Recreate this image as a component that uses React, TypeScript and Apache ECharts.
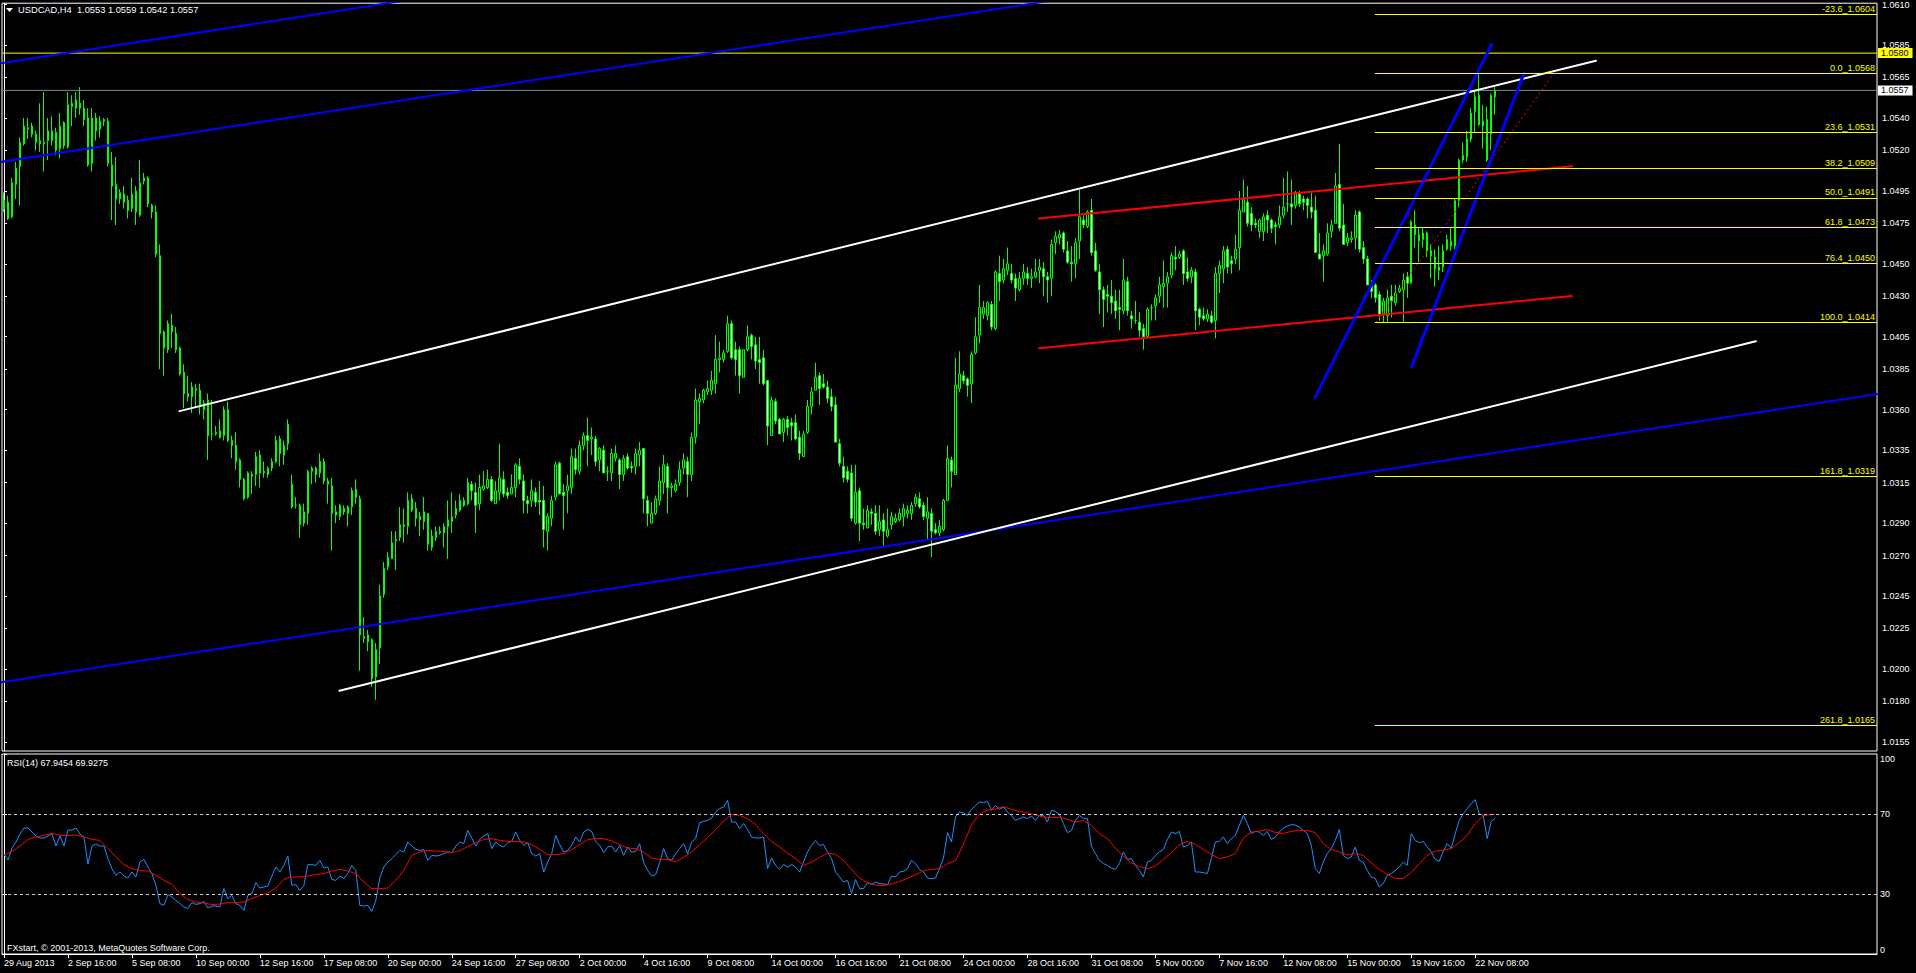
import React, { useEffect, useRef } from "react";
import * as echarts from "echarts";

const WIDTH = 1916;
const HEIGHT = 973;
const SLOTS = 469; // bar slots visible in the window
const FONT = "Liberation Sans";

const titleText = "USDCAD,H4  1.0553 1.0559 1.0542 1.0557";
const rsiTitle = "RSI(14) 67.9454 69.9275";
const copyright = "FXstart, \u00A9 2001-2013, MetaQuotes Software Corp.";

const dateLabels = [
  "29 Aug 2013", "2 Sep 16:00", "5 Sep 08:00", "10 Sep 00:00", "12 Sep 16:00", "17 Sep 08:00",
  "20 Sep 00:00", "24 Sep 16:00", "27 Sep 08:00", "2 Oct 00:00", "4 Oct 16:00", "9 Oct 08:00",
  "14 Oct 00:00", "16 Oct 16:00", "21 Oct 08:00", "24 Oct 00:00", "28 Oct 16:00", "31 Oct 08:00",
  "5 Nov 00:00", "7 Nov 16:00", "12 Nov 08:00", "15 Nov 00:00", "19 Nov 16:00", "22 Nov 08:00",
];
const LABEL_EVERY = 16;

const priceTicks = [
  1.061, 1.0585, 1.0565, 1.054, 1.052, 1.0495, 1.0475, 1.045, 1.043, 1.0405, 1.0385,
  1.036, 1.0335, 1.0315, 1.029, 1.027, 1.0245, 1.0225, 1.02, 1.018, 1.0155,
];
const rsiTicks = [0, 30, 70, 100];
const rsiLevels = [70, 30];

// OHLC in pips above 1.0000
const opens = [
  484, 488, 479, 499, 510, 524, 533, 535, 530, 524,
  524, 526, 532, 531, 521, 537, 522, 547, 546, 549,
  546, 540, 512, 540, 533, 538, 538, 511, 499, 490,
  493, 489, 484, 482, 480, 501, 503, 486, 482, 455,
  408, 397, 412, 407, 398, 383, 370, 368, 372, 372,
  364, 366, 345, 345, 343, 344, 360, 341, 338, 329,
  317, 306, 320, 320, 332, 321, 320, 324, 328, 342,
  332, 339, 314, 301, 301, 290, 296, 322, 324, 321,
  328, 316, 313, 297, 294, 299, 296, 300, 311, 305,
  220, 221, 218, 195, 213, 246, 263, 268, 279, 281,
  289, 288, 305, 299, 294, 291, 296, 275, 281, 284,
  284, 288, 291, 295, 298, 301, 302, 314, 309, 302,
  311, 312, 317, 302, 309, 317, 309, 308, 312, 325,
  316, 304, 304, 309, 304, 304, 285, 293, 306, 327,
  309, 310, 312, 330, 322, 338, 344, 342, 342, 329,
  335, 322, 321, 330, 329, 320, 331, 325, 325, 332,
  336, 304, 290, 296, 304, 315, 325, 312, 310, 315,
  324, 328, 320, 343, 365, 366, 371, 372, 376, 391,
  391, 396, 413, 397, 397, 380, 397, 406, 400, 391,
  392, 378, 344, 365, 354, 346, 354, 352, 352, 343,
  331, 346, 362, 372, 381, 376, 374, 368, 363, 339,
  325, 322, 321, 290, 310, 290, 287, 297, 296, 286,
  292, 282, 289, 291, 292, 294, 296, 296, 302, 305,
  301, 293, 296, 286, 284, 286, 304, 329, 320, 373,
  381, 379, 376, 395, 406, 419, 418, 425, 410, 444,
  440, 446, 444, 441, 434, 441, 444, 441, 442, 446,
  447, 442, 441, 463, 466, 469, 458, 451, 450, 464,
  477, 473, 483, 458, 445, 434, 431, 430, 427, 423,
  421, 439, 418, 415, 414, 410, 405, 423, 424, 430,
  436, 438, 443, 454, 454, 458, 445, 442, 445, 422,
  418, 416, 418, 415, 444, 447, 459, 452, 453, 460,
  482, 488, 481, 475, 470, 470, 480, 477, 474, 474,
  480, 487, 487, 486, 493, 490, 490, 485, 483, 456,
  455, 456, 470, 475, 499, 474, 463, 465, 466, 482,
  460, 453, 437, 437, 431, 419, 418, 430, 426, 433,
  434, 442, 438, 474, 468, 465, 469, 458, 454, 448,
  448, 459, 461, 461, 489, 514, 516, 527, 544, 554,
  538, 539, 530, 553,
];
const closes = [
  489, 478, 500, 509, 525, 535, 534, 530, 525, 526,
  525, 532, 526, 520, 535, 523, 548, 549, 551, 546,
  539, 511, 540, 532, 538, 539, 512, 498, 490, 494,
  488, 483, 493, 495, 500, 503, 487, 482, 456, 407,
  398, 413, 408, 397, 382, 370, 368, 374, 373, 362,
  360, 344, 345, 346, 347, 360, 341, 338, 328, 317,
  305, 321, 319, 331, 321, 322, 324, 328, 341, 333,
  338, 351, 300, 301, 289, 297, 322, 324, 320, 328,
  316, 314, 296, 295, 301, 297, 300, 310, 306, 221,
  219, 217, 194, 212, 245, 262, 269, 278, 280, 289,
  288, 304, 298, 293, 292, 297, 277, 282, 285, 285,
  288, 292, 294, 299, 304, 304, 315, 310, 301, 312,
  313, 317, 304, 310, 318, 308, 307, 312, 326, 317,
  304, 302, 310, 303, 303, 286, 294, 304, 326, 308,
  307, 313, 331, 323, 338, 344, 341, 343, 328, 336,
  321, 322, 333, 333, 320, 330, 324, 324, 333, 335,
  305, 296, 296, 305, 316, 326, 312, 313, 314, 323,
  329, 320, 343, 366, 367, 372, 373, 378, 391, 392,
  395, 413, 392, 391, 381, 397, 405, 399, 390, 389,
  376, 350, 366, 353, 345, 354, 349, 350, 342, 333,
  345, 362, 371, 380, 373, 374, 367, 362, 340, 327,
  318, 317, 293, 309, 290, 289, 298, 296, 285, 291,
  285, 286, 294, 293, 296, 299, 298, 301, 306, 300,
  294, 297, 285, 284, 288, 304, 330, 322, 375, 382,
  378, 375, 394, 405, 423, 423, 426, 411, 445, 439,
  447, 450, 440, 435, 441, 445, 441, 442, 445, 448,
  442, 440, 462, 467, 468, 459, 451, 450, 463, 479,
  474, 482, 457, 446, 434, 428, 430, 426, 421, 422,
  440, 421, 416, 415, 409, 405, 422, 423, 429, 437,
  438, 442, 455, 453, 456, 444, 441, 446, 421, 417,
  416, 419, 414, 444, 449, 458, 448, 450, 459, 483,
  490, 475, 474, 474, 477, 479, 477, 472, 473, 479,
  485, 487, 485, 494, 487, 488, 486, 482, 457, 453,
  458, 469, 474, 498, 472, 462, 466, 466, 480, 459,
  453, 437, 433, 429, 419, 427, 429, 427, 432, 435,
  440, 438, 476, 468, 464, 469, 458, 455, 447, 446,
  458, 465, 464, 489, 514, 517, 527, 543, 553, 536,
  535, 514, 554, 557,
];
const lows = [
  482, 477, 478, 490, 486, 523, 527, 528, 520, 519,
  507, 514, 523, 517, 515, 521, 521, 535, 540, 542,
  535, 510, 507, 526, 528, 535, 510, 477, 474, 487,
  484, 478, 482, 474, 479, 499, 485, 478, 454, 385,
  381, 395, 398, 395, 381, 361, 365, 358, 361, 357,
  354, 329, 341, 344, 342, 341, 340, 330, 323, 312,
  304, 305, 308, 313, 312, 318, 318, 322, 327, 325,
  326, 335, 299, 299, 281, 288, 289, 314, 315, 318,
  314, 302, 273, 290, 292, 295, 288, 295, 302, 199,
  216, 211, 189, 181, 203, 244, 261, 268, 261, 279,
  278, 283, 297, 288, 282, 286, 273, 273, 279, 283,
  275, 268, 284, 293, 297, 300, 301, 304, 284, 298,
  310, 311, 303, 302, 304, 306, 305, 308, 306, 314,
  296, 296, 300, 300, 295, 275, 273, 288, 304, 308,
  286, 296, 308, 320, 320, 335, 325, 332, 325, 322,
  321, 316, 316, 328, 311, 316, 323, 321, 320, 325,
  296, 288, 290, 295, 301, 308, 296, 306, 309, 313,
  320, 306, 316, 339, 351, 364, 369, 369, 370, 383,
  389, 395, 391, 381, 370, 380, 396, 391, 385, 376,
  375, 338, 344, 351, 345, 340, 344, 341, 341, 329,
  331, 345, 357, 372, 363, 373, 364, 359, 340, 325,
  315, 315, 291, 289, 279, 286, 287, 289, 283, 282,
  276, 281, 286, 290, 291, 288, 293, 292, 300, 299,
  292, 280, 269, 283, 282, 285, 304, 312, 320, 371,
  376, 368, 364, 394, 401, 416, 415, 409, 409, 427,
  438, 443, 438, 427, 433, 437, 437, 435, 441, 438,
  430, 426, 430, 456, 462, 457, 450, 439, 441, 453,
  472, 472, 455, 445, 419, 411, 420, 419, 416, 409,
  419, 418, 410, 413, 405, 397, 404, 415, 415, 426,
  423, 423, 441, 446, 453, 437, 439, 438, 409, 412,
  415, 414, 413, 404, 432, 438, 444, 444, 450, 446,
  482, 473, 470, 472, 466, 464, 469, 469, 462, 472,
  478, 482, 474, 484, 485, 483, 478, 478, 457, 453,
  439, 455, 466, 475, 470, 462, 461, 463, 459, 457,
  450, 437, 429, 426, 415, 414, 414, 417, 424, 432,
  414, 429, 438, 460, 451, 460, 454, 441, 436, 440,
  445, 458, 458, 459, 485, 512, 513, 525, 531, 535,
  521, 513, 520, 542,
];
const highs = [
  494, 492, 503, 513, 528, 540, 540, 537, 532, 549,
  556, 540, 541, 534, 543, 538, 556, 554, 556, 559,
  551, 546, 546, 543, 541, 540, 540, 519, 516, 496,
  498, 492, 503, 498, 514, 506, 504, 487, 486, 462,
  409, 415, 419, 411, 399, 388, 381, 377, 376, 376,
  366, 370, 366, 350, 354, 362, 365, 344, 346, 330,
  318, 322, 322, 334, 335, 328, 325, 330, 344, 344,
  341, 354, 320, 306, 302, 302, 323, 325, 325, 333,
  330, 318, 318, 301, 302, 301, 301, 312, 317, 307,
  232, 224, 219, 216, 252, 266, 272, 285, 285, 300,
  299, 309, 308, 303, 297, 306, 296, 286, 288, 288,
  290, 304, 309, 304, 308, 306, 318, 316, 315, 320,
  322, 323, 319, 316, 339, 322, 312, 320, 327, 330,
  320, 307, 317, 312, 316, 313, 296, 307, 328, 328,
  314, 320, 336, 336, 341, 346, 355, 349, 344, 337,
  338, 325, 336, 338, 330, 332, 333, 328, 336, 340,
  336, 307, 303, 307, 325, 332, 327, 315, 317, 328,
  333, 331, 346, 373, 370, 373, 378, 384, 406, 402,
  397, 418, 415, 402, 399, 397, 412, 407, 405, 405,
  397, 378, 368, 367, 355, 355, 356, 355, 357, 347,
  347, 366, 374, 389, 383, 382, 378, 373, 368, 342,
  331, 325, 326, 326, 312, 299, 301, 299, 301, 301,
  296, 299, 297, 296, 299, 302, 301, 303, 308, 309,
  303, 306, 299, 290, 292, 305, 338, 331, 392, 396,
  384, 380, 396, 417, 437, 427, 427, 427, 446, 455,
  453, 460, 450, 444, 445, 450, 448, 447, 453, 453,
  451, 445, 465, 470, 471, 470, 464, 461, 466, 496,
  480, 483, 490, 463, 450, 436, 437, 440, 434, 434,
  453, 442, 421, 427, 420, 413, 423, 425, 431, 442,
  452, 445, 457, 461, 458, 459, 454, 448, 447, 423,
  423, 422, 421, 448, 452, 461, 461, 455, 468, 495,
  502, 498, 485, 478, 478, 481, 483, 478, 476, 486,
  503, 507, 502, 495, 495, 492, 491, 494, 492, 469,
  462, 475, 477, 506, 524, 487, 469, 470, 483, 483,
  464, 455, 440, 438, 433, 429, 434, 437, 437, 437,
  444, 445, 477, 483, 472, 472, 470, 462, 459, 461,
  462, 468, 472, 490, 515, 525, 532, 546, 556, 567,
  548, 547, 555, 559,
];

const rsiValues = [
  50, 47, 53, 56, 60, 63, 63, 61, 59, 58,
  58, 59, 60, 54, 59, 54, 62, 62, 63, 60,
  58.5, 45, 54, 55, 54, 54, 47.7, 42.7, 39.3, 41,
  39, 38, 41, 38.5, 46, 47.3, 43.5, 40.2, 34.3, 25.2,
  24.3, 29.7, 28.5, 26.8, 25.2, 23.5, 22.7, 25.7, 24.8, 25.2,
  26.3, 23, 24, 24, 23.5, 32.7, 27.7, 29.3, 25.2, 24.3,
  21.8, 29.3, 30.2, 35.7, 33, 33.5, 34, 39, 43.5, 41,
  44.3, 49, 34.3, 34.7, 31.8, 34.3, 44.7, 44.7, 44.3, 46.8,
  43, 43.5, 37.3, 36.8, 39, 37.7, 40.2, 44.3, 41.8, 24.3,
  24, 24.3, 21.3, 26.8, 38, 43.5, 46, 47.7, 49.7, 51.8,
  51, 56, 54, 52.3, 51.8, 52.3, 46.8, 49.3, 49, 49.3,
  50.2, 51, 50.7, 54, 56, 55.2, 61.8, 58, 54, 57.3,
  59, 60.2, 52.7, 56, 54.3, 53.5, 55.7, 56.3, 61, 56.8,
  54.3, 55.7, 50.2, 49, 50.2, 41, 46, 50.2, 59.3, 54.7,
  51, 51.8, 54.3, 58.5, 56, 61, 62.3, 61.3, 56.3, 54.3,
  50.7, 53.5, 54, 51, 54.3, 49.3, 53.5, 51, 51.3, 55.2,
  45.7, 41.8, 39, 39.7, 45.7, 52.7, 47.7, 46.8, 50.2, 52.7,
  55.2, 50.2, 56, 57.7, 65.7, 66.3, 66.8, 68, 71, 72.7,
  73.5, 76.8, 66, 66, 62.7, 65.2, 62.3, 58.5, 58, 58,
  58.5, 42.7, 48, 44.3, 42.3, 44.7, 43.5, 44.7, 43.5, 41,
  46, 51, 54.3, 56.8, 54.3, 54.7, 51, 47.7, 41, 38.5,
  36, 36.8, 30.2, 37.2, 32.7, 32.7, 35.7, 34.7, 36, 35.2,
  35, 34.7, 39, 38.5, 41, 41.3, 42.7, 46.8, 45.2, 42.3,
  41, 38, 37.7, 38, 42.7, 48, 60.7, 56, 68.5, 71,
  70.5, 69.3, 72.3, 74.3, 76, 75.7, 76.3, 71.8, 74.3, 72.3,
  73.5, 71, 69.3, 66.8, 67.7, 68.5, 67.7, 69, 66.8, 69.3,
  69.3, 66, 71.8, 71.3, 69.7, 65.2, 60.7, 61.8, 66.8, 69.3,
  67.7, 67.7, 54, 50.2, 46.8, 45.2, 44.3, 43, 42.3, 45.2,
  51, 47.3, 47.7, 44.3, 41.8, 38.5, 46, 46.8, 49.3, 51,
  52.3, 57.3, 61, 60.2, 61.3, 53.5, 54.3, 56, 41, 41,
  40.7, 40.2, 47.7, 56, 56.3, 58.5, 55.2, 57.7, 59.3, 64.3,
  69.3, 65.2, 60.2, 61.3, 61, 59.3, 61.3, 57.3, 58.5, 61,
  63, 64, 64.7, 64.5, 63.5, 61.8, 60.2, 54.3, 42.7, 40.2,
  46, 50.2, 52.7, 56.8, 62.3, 49.3, 47.7, 48.5, 53.5, 46.8,
  46, 41.8, 38.5, 37.7, 33.5, 35.2, 39.3, 40.2, 41.8, 43.5,
  46, 44.3, 60.2, 56.8, 55.7, 56.3, 53.5, 51, 47.3, 46.3,
  51.3, 55.2, 52.7, 60.2, 66.8, 70.2, 72.7, 75.2, 77.2, 70.2,
  69.3, 57.7, 66.3, 67.9,
];

// RSI signal line, read at [bar, value]
const rsiSignal = [
  [0, 49.3], [2, 51.3], [4, 54], [6, 57.3], [8, 58.5], [10, 59.3], [12, 60.3], [14, 59.3], [16, 59.2], [18, 59.5],
  [20, 58.5], [22, 57.3], [24, 56.8], [26, 52.7], [28, 48.5], [30, 44.7], [32, 42.7], [34, 41.7], [36, 41.5], [38, 39.3],
  [40, 36.8], [42, 34.8], [44, 30.2], [46, 27.3], [48, 26], [50, 25.5], [52, 24.7], [54, 25], [56, 25.7], [58, 25.7],
  [60, 26], [62, 27.7], [64, 29.3], [66, 30.5], [68, 33], [70, 37.3], [72, 38.5], [74, 38.5], [76, 39], [78, 39.7],
  [80, 40.2], [82, 41.5], [84, 42.3], [86, 41.5], [88, 40.2], [90, 36], [92, 32.7], [94, 32.7], [96, 33], [98, 36.8],
  [100, 41.8], [102, 49.3], [104, 51], [106, 51.8], [108, 51.5], [110, 51.2], [112, 50.7], [114, 51.7], [116, 53.7], [118, 55.7],
  [120, 57.2], [122, 57.7], [124, 56.8], [126, 56.3], [128, 56.3], [130, 56], [132, 54.7], [134, 52.3], [136, 49.7], [138, 49.7],
  [140, 50.2], [142, 52.2], [144, 54.7], [146, 57.2], [148, 57.8], [150, 57.7], [152, 56.5], [154, 54.7], [156, 53], [158, 52.7],
  [160, 51], [162, 48], [164, 47.3], [166, 47.2], [168, 46], [170, 48.3], [172, 51], [174, 54.7], [176, 58.2], [178, 62.2],
  [180, 66.5], [182, 69.7], [184, 69.3], [186, 67.7], [188, 64.7], [190, 60.2], [192, 56.3], [194, 53.5], [196, 50.5], [198, 47.7],
  [200, 44.3], [202, 46], [204, 48.3], [206, 50.5], [208, 49.8], [210, 46.8], [212, 42.3], [214, 38], [216, 35.7], [218, 34.5],
  [220, 34.2], [222, 35], [224, 36.3], [226, 37.8], [228, 39.7], [230, 41.5], [232, 42.3], [234, 42.7], [236, 45.2], [238, 46.7],
  [240, 55], [242, 64.5], [244, 70], [246, 72], [248, 72.5], [250, 73.7], [252, 72.3], [254, 71.3], [256, 70.5], [258, 69.5],
  [260, 68.5], [262, 68.2], [264, 68.3], [266, 67.3], [268, 66], [270, 66.7], [272, 64.3], [274, 60.2], [276, 57.7], [278, 53],
  [280, 48.8], [282, 45.5], [284, 43.7], [286, 42.7], [288, 44], [290, 47.3], [292, 50.7], [294, 54.7], [296, 56.3], [298, 54.8],
  [300, 52.3], [302, 49.8], [304, 47.7], [306, 48.5], [308, 50.2], [310, 58], [312, 61], [314, 61.5], [316, 62.2], [318, 60.8],
  [320, 60.3], [322, 61.3], [324, 61.8], [326, 61.8], [328, 60.7], [330, 55.2], [332, 52.2], [334, 51], [336, 49.5], [338, 50.2],
  [340, 49.3], [342, 45.5], [344, 42.3], [346, 39.7], [348, 37.7], [350, 37.8], [352, 40.7], [354, 45.2], [356, 49.3], [358, 51.5],
  [360, 51.8], [362, 52.8], [364, 55.7], [366, 59.3], [368, 65.2], [370, 69.2], [372, 69.7], [373, 69.9],
];

// Drawn objects, in [bar, price]
const trendLines = [
  { color: "#0000ff", width: 2, dash: "solid", pts: [[-1, 1.05737], [120, 1.062]] },
  { color: "#0000ff", width: 2, dash: "solid", pts: [[-1, 1.05128], [262, 1.06124]] },
  { color: "#0000ff", width: 2, dash: "solid", pts: [[-1, 1.01917], [470, 1.03702]] },
  { color: "#ffffff", width: 2, dash: "solid", pts: [[43.9, 1.03591], [398.2, 1.05753]] },
  { color: "#ffffff", width: 2, dash: "solid", pts: [[83.9, 1.01866], [438.2, 1.04022]] },
  { color: "#ff0000", width: 2, dash: "solid", pts: [[258.9, 1.0478], [392.2, 1.05102]] },
  { color: "#ff0000", width: 2, dash: "solid", pts: [[258.9, 1.03979], [392.2, 1.04301]] },
  { color: "#0000ff", width: 3, dash: "solid", pts: [[327.9, 1.03673], [372.1, 1.05854]] },
  { color: "#0000ff", width: 3, dash: "solid", pts: [[352.1, 1.03864], [380.2, 1.05675]] },
];
const fibAnchor = [[343.2, 1.04139], [387.7, 1.05676]];
const fibStartBar = 342.9;
const fibLevels = [-23.6, 0, 23.6, 38.2, 50, 61.8, 76.4, 100, 161.8, 261.8];
const fibPrices = [1.06039, 1.05676, 1.05313, 1.05089, 1.04907, 1.04726, 1.04502, 1.04139, 1.03189, 1.01652];
const priceLines = [
  { price: 1.058, color: "#ffff00", box: "#ffff00" },
  { price: 1.0557, color: "#778899", box: "#ffffff" },
];

function toPrice(pips: number) {
  return 1 + pips / 10000;
}

function showDateTick(index: number) {
  return index % LABEL_EVERY === 0 && index / LABEL_EVERY < dateLabels.length;
}

function buildOption(): any {
  const cats = Array.from({ length: SLOTS }, (_, i) => String(i));
  const candleData = opens.map((o, i) => [toPrice(o), toPrice(closes[i]), toPrice(lows[i]), toPrice(highs[i])]);
  const labelBase = { fontFamily: FONT, fontSize: 9 };

  const lineSeries = trendLines.map((t) => ({
    type: "line",
    xAxisIndex: 2,
    yAxisIndex: 0,
    data: t.pts,
    symbol: "none",
    showSymbol: false,
    clip: true,
    silent: true,
    z: 4,
    lineStyle: { color: t.color, width: t.width, type: t.dash, cap: "round" },
  }));

  const priceLineSeries = priceLines.map((p) => ({
    type: "line",
    xAxisIndex: 2,
    yAxisIndex: 0,
    data: [[-0.5, p.price], [SLOTS - 0.5, p.price]],
    symbol: "none",
    showSymbol: false,
    clip: false,
    silent: true,
    z: 3,
    lineStyle: { color: p.color, width: 1, type: "solid" },
    endLabel: {
      show: true,
      formatter: p.price.toFixed(4),
      color: "#000000",
      backgroundColor: p.box,
      padding: [1, 4, 0, 3],
      lineHeight: 9,
      distance: 1,
      ...labelBase,
    },
  }));

  return {
    animation: false,
    backgroundColor: "#000000",
    textStyle: { fontFamily: FONT, fontSize: 9, color: "#ffffff" },
    grid: [
      { left: 2, top: 2, width: 1875, height: 749, show: true, borderColor: "#ffffff", borderWidth: 1, containLabel: false },
      { left: 2, top: 754, width: 1875, height: 200, show: true, borderColor: "#ffffff", borderWidth: 1, containLabel: false },
    ],
    xAxis: [
      { type: "category", gridIndex: 0, data: cats, boundaryGap: true, show: false },
      {
        type: "category",
        gridIndex: 1,
        data: cats,
        boundaryGap: true,
        axisLine: { show: true, lineStyle: { color: "#ffffff", width: 1 } },
        axisTick: { show: true, interval: showDateTick, alignWithLabel: true, length: 4, lineStyle: { color: "#ffffff" } },
        axisLabel: {
          show: true,
          interval: showDateTick,
          formatter: (_v: string, idx: number) => dateLabels[idx / LABEL_EVERY] || "",
          color: "#ffffff",
          align: "left",
          margin: 4,
          ...labelBase,
        },
        splitLine: { show: false },
      },
      { type: "value", gridIndex: 0, min: -0.5, max: SLOTS - 0.5, show: false },
      { type: "value", gridIndex: 1, min: -0.5, max: SLOTS - 0.5, show: false },
    ],
    yAxis: [
      {
        type: "value",
        gridIndex: 0,
        position: "right",
        min: 1.01494,
        max: 1.06108,
        axisLine: { show: true, lineStyle: { color: "#ffffff" } },
        axisTick: { show: true, length: 3, customValues: priceTicks, lineStyle: { color: "#ffffff" } },
        axisLabel: {
          customValues: priceTicks,
          formatter: (v: number) => v.toFixed(4),
          color: "#ffffff",
          margin: 5,
          ...labelBase,
        },
        splitLine: { show: false },
      },
      {
        type: "value",
        gridIndex: 1,
        position: "right",
        min: 0,
        max: 100,
        axisLine: { show: true, lineStyle: { color: "#ffffff" } },
        axisTick: { show: true, length: 3, customValues: rsiTicks, lineStyle: { color: "#ffffff" } },
        axisLabel: {
          customValues: rsiTicks,
          color: "#ffffff",
          margin: 3,
          verticalAlignMinLabel: "bottom",
          verticalAlignMaxLabel: "top",
          ...labelBase,
        },
        splitLine: { show: false },
      },
    ],
    series: [
      {
        type: "candlestick",
        xAxisIndex: 0,
        yAxisIndex: 0,
        data: candleData,
        barWidth: 2,
        silent: true,
        z: 2,
        itemStyle: {
          color: "#000000",
          color0: "#ffffff",
          borderColor: "#00ff00",
          borderColor0: "#00ff00",
          borderColorDoji: "#00ff00",
          borderWidth: 1,
        },
      },
      ...priceLineSeries,
      ...lineSeries,
      {
        type: "line",
        xAxisIndex: 2,
        yAxisIndex: 0,
        data: fibAnchor,
        symbol: "none",
        showSymbol: false,
        silent: true,
        z: 3,
        lineStyle: { color: "#ff0000", width: 1, type: [2, 3] },
        markLine: {
          silent: true,
          symbol: ["none", "none"],
          animation: false,
          lineStyle: { color: "#ffff00", width: 1, type: "solid" },
          label: { show: true },
          data: fibLevels.map((lv, k) => [
            {
              coord: [fibStartBar, fibPrices[k]],
              lineStyle: { color: "#ffff00", width: 1, type: "solid" },
              label: {
                show: true,
                position: "insideEndTop",
                distance: [2, 1],
                formatter: lv.toFixed(1) + "_" + fibPrices[k].toFixed(4),
                color: "#ffff00",
                padding: 0,
                ...labelBase,
              },
            },
            { coord: [SLOTS - 0.5, fibPrices[k]] },
          ]),
        },
      },
      {
        type: "line",
        xAxisIndex: 3,
        yAxisIndex: 1,
        data: rsiValues.map((v, i) => [i, v]),
        symbol: "none",
        showSymbol: false,
        silent: true,
        z: 3,
        lineStyle: { color: "#1e90ff", width: 1 },
        markLine: {
          silent: true,
          symbol: ["none", "none"],
          animation: false,
          label: { show: false },
          lineStyle: { color: "#d0d0d0", width: 1, type: [3, 3] },
          data: rsiLevels.map((v) => ({ yAxis: v })),
        },
      },
      {
        type: "line",
        xAxisIndex: 3,
        yAxisIndex: 1,
        data: rsiSignal,
        symbol: "none",
        showSymbol: false,
        silent: true,
        z: 4,
        lineStyle: { color: "#ff0000", width: 1 },
      },
    ],
    graphic: [
      { type: "polygon", shape: { points: [[6, 8], [13, 8], [9.5, 12]] }, style: { fill: "#ffffff" }, silent: true, z: 10 },
      {
        type: "text",
        x: 18,
        y: 10,
        silent: true,
        z: 10,
        style: { text: titleText, fill: "#ffffff", font: `9.3px "${FONT}"`, verticalAlign: "middle", textVerticalAlign: "middle" },
      },
      {
        type: "text",
        x: 7,
        y: 763,
        silent: true,
        z: 10,
        style: { text: rsiTitle, fill: "#ffffff", font: `9px "${FONT}"`, verticalAlign: "middle", textVerticalAlign: "middle" },
      },
      {
        type: "text",
        x: 7,
        y: 948,
        silent: true,
        z: 10,
        style: { text: copyright, fill: "#ffffff", font: `9px "${FONT}"`, verticalAlign: "middle", textVerticalAlign: "middle" },
      },
    ],
  };
}

export default function App() {
  const ref = useRef<HTMLDivElement>(null);
  useEffect(() => {
    document.body.style.margin = "0";
    document.body.style.background = "#000000";
    const chart = echarts.init(ref.current as HTMLDivElement, null, { renderer: "svg", width: WIDTH, height: HEIGHT });
    chart.setOption(buildOption());
    return () => {
      chart.dispose();
    };
  }, []);
  return <div ref={ref} style={{ width: WIDTH, height: HEIGHT, background: "#000000" }} />;
}
